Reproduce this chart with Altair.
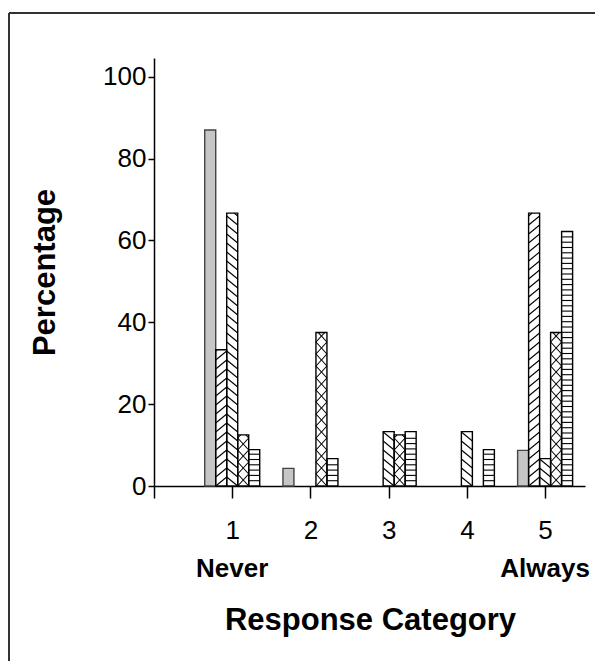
import altair as alt
import pandas as pd

# ---- data ----
categories = [1, 2, 3, 4, 5]
series_keys = ["a", "b", "c", "d", "e"]
gray_vals = [87.0, 4.3, 0.0, 0.0, 8.7]      # stippled grey bars
slash_vals = [33.3, 0.0, 0.0, 0.0, 66.7]    # "///" hatched bars
back_vals = [66.7, 0.0, 13.3, 13.3, 6.7]    # "\\\" hatched bars
cross_vals = [12.5, 37.5, 12.5, 0.0, 37.5]  # cross-hatched bars
horiz_vals = [8.9, 6.7, 13.3, 8.9, 62.2]    # horizontal-line bars
x_tick_values = [0, 1, 2, 3, 4, 5]
y_tick_values = [0, 20, 40, 60, 80, 100]
end_positions = [1, 5]
end_labels = ["Never", "Always"]

all_series = [gray_vals, slash_vals, back_vals, cross_vals, horiz_vals]
rows = []
for si, (key, vals) in enumerate(zip(series_keys, all_series)):
    for c, v in zip(categories, vals):
        rows.append({"cat": c, "si": si, "s": key, "v": v})
df = pd.DataFrame(rows)

# ---- layout ----
W, H = 431, 428
XMAX, YMAX = 5.51, 104.6
XS = W / XMAX
YS = H / YMAX
BW = 11.0 / XS
FONT = "Liberation Sans"

xsc = alt.Scale(domain=[0, XMAX], nice=False, zero=False)
ysc = alt.Scale(domain=[0, YMAX], nice=False)

xaxis = alt.Axis(
    values=x_tick_values, format="d",
    labelExpr="datum.value == 0 ? '' : datum.label",
    grid=False, tickSize=12, tickWidth=1.5, tickColor="black",
    domainColor="black", domainWidth=1.5,
    labelFont=FONT, labelFontSize=26, labelColor="black",
    labelBaseline="alphabetic", labelPadding=40, labelFlush=False,
    title="Response Category", titleFont=FONT, titleFontSize=31,
    titleFontWeight="bold", titleColor="black",
    titleX=216, titleY=143, titleBaseline="alphabetic", titleAlign="center",
)
yaxis = alt.Axis(
    values=y_tick_values, format="d", grid=False, tickSize=6, tickWidth=1.5,
    tickColor="black", domainColor="black", domainWidth=1.5,
    labelFont=FONT, labelFontSize=26, labelColor="black", labelPadding=2,
    labelFlush=False,
    title="Percentage", titleFont=FONT, titleFontSize=31,
    titleFontWeight="bold", titleColor="black",
    titleX=-109, titleY=214, titleAngle=270, titleBaseline="middle",
    titleAlign="center",
)

base = (
    alt.Chart(df)
    .transform_filter("datum.v > 0")
    .transform_calculate(
        xl=f"datum.cat + (datum.si - 2.5) * {BW}",
        xr=f"datum.cat + (datum.si - 1.5) * {BW}",
    )
)

bars = base.mark_rect(strokeWidth=0).encode(
    x=alt.X("xl:Q", scale=xsc, axis=xaxis),
    x2="xr:Q",
    y=alt.Y("v:Q", scale=ysc, axis=yaxis),
    y2=alt.datum(0),
    fill=alt.Fill("s:N", scale=alt.Scale(domain=series_keys,
                  range=["#c6c6c6", "white", "white", "white", "white"]),
                  legend=None),
)

hatch = (
    base.transform_calculate(
        fams="datum.s == 'b' ? ['up'] : datum.s == 'c' ? ['down'] : "
             "datum.s == 'd' ? ['up', 'down'] : datum.s == 'e' ? ['h'] : []"
    )
    .transform_flatten(["fams"], as_=["fam"])
    .transform_calculate(
        rise=f"datum.fam == 'h' ? 0 : (datum.s == 'd' ? 12 : 9) / {YS}",
        sp=f"(datum.fam == 'h' ? 5.3 : datum.s == 'd' ? 12 : 9) / {YS}",
    )
    .transform_calculate(ks="sequence(0, ceil((datum.v + datum.rise) / datum.sp) + 1)")
    .transform_flatten(["ks"], as_=["k"])
    .transform_calculate(y0="datum.k * datum.sp - datum.rise")
    .transform_calculate(
        ts="datum.fam == 'h' ? 0 : max(0, -datum.y0 / datum.rise)",
        te="datum.fam == 'h' ? 1 : min(1, (datum.v - datum.y0) / datum.rise)",
    )
    .transform_filter(
        "datum.fam == 'h' ? (datum.y0 > 0.3 && datum.y0 < datum.v - 0.6) : (datum.te - datum.ts > 0.03)"
    )
    .transform_calculate(
        hx1=f"datum.fam == 'down' ? datum.xr - datum.ts * {BW} : datum.xl + datum.ts * {BW}",
        hx2=f"datum.fam == 'down' ? datum.xr - datum.te * {BW} : datum.xl + datum.te * {BW}",
        hy1="datum.y0 + datum.rise * datum.ts",
        hy2="datum.y0 + datum.rise * datum.te",
    )
    .mark_rule(color="black", strokeWidth=1.1)
    .encode(
        x=alt.X("hx1:Q", scale=xsc),
        x2="hx2:Q",
        y=alt.Y("hy1:Q", scale=ysc),
        y2="hy2:Q",
    )
)

outline = base.mark_rect(filled=False, strokeWidth=1.4).encode(
    x=alt.X("xl:Q", scale=xsc),
    x2="xr:Q",
    y=alt.Y("v:Q", scale=ysc),
    y2=alt.datum(0),
    stroke=alt.Stroke("s:N", scale=alt.Scale(domain=series_keys,
                      range=["#444444", "black", "black", "black", "black"]),
                      legend=None),
)

ends = alt.Chart(pd.DataFrame({"pos": end_positions, "lab": end_labels})).mark_text(
    font=FONT, fontSize=26, fontWeight="bold", baseline="alphabetic",
    align="center", color="black",
).encode(
    x=alt.X("pos:Q", scale=xsc),
    y=alt.value(519),
    text="lab:N",
)

# outer frame: only the top and left edges fall inside the page
frame_df = pd.DataFrame({"f": [0]})
frame_top = alt.Chart(frame_df).mark_rule(color="#333333", strokeWidth=2).encode(
    x=alt.value(-145), x2=alt.value(W + 10), y=alt.value(-45),
)
frame_left = alt.Chart(frame_df).mark_rule(color="#333333", strokeWidth=2).encode(
    x=alt.value(-145), y=alt.value(-45), y2=alt.value(H + 175),
)

chart = (
    alt.layer(frame_top, frame_left, bars, hatch, outline, ends)
    .properties(
        width=W, height=H,
        autosize=alt.AutoSizeParams(type="none"),
        padding={"left": 146, "top": 50, "right": 18, "bottom": 175},
        background="white",
    )
    .configure_view(stroke="transparent")
)

chart.save("out.html", embed_options={"renderer": "svg", "actions": False})
